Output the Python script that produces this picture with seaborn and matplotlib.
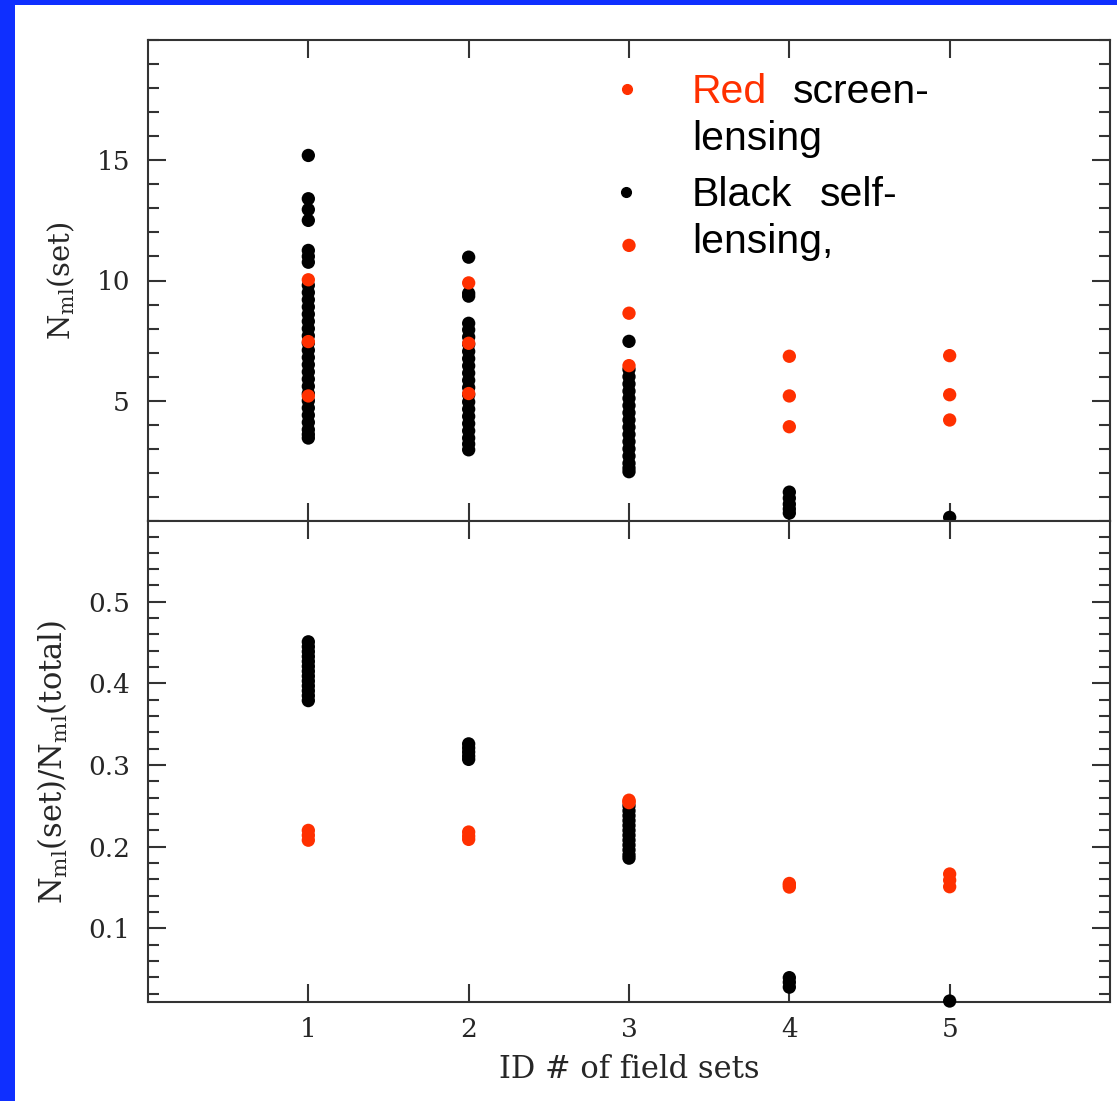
import matplotlib
matplotlib.use("Agg")
import matplotlib.pyplot as plt
import numpy as np
import pandas as pd
import seaborn as sns
from matplotlib.ticker import MultipleLocator, FixedLocator, NullLocator
from matplotlib.patches import Rectangle
from matplotlib.lines import Line2D

# ---------------- data ----------------
set_ids = [1, 2, 3, 4, 5]
x_tick_labels = ["1", "2", "3", "4", "5"]

# top panel: N_ml(set)
top_self = {
    1: [15.2, 13.4, 12.95, 12.5, 11.25, 11.0, 10.76, 9.8, 9.5, 9.2, 8.9, 8.6, 8.3,
        8.0, 7.7, 7.4, 7.1, 6.8, 6.5, 6.2, 5.9, 5.6, 5.3, 5.0, 4.7, 4.4, 4.1, 3.8,
        3.6, 3.45],
    2: [10.97, 9.47, 9.35, 8.22, 7.95, 7.65, 7.35, 7.05, 6.75, 6.45, 6.15, 5.85,
        5.55, 5.25, 4.95, 4.65, 4.35, 4.05, 3.75, 3.45, 3.2, 2.96],
    3: [7.47, 6.3, 6.0, 5.7, 5.4, 5.1, 4.8, 4.5, 4.2, 3.9, 3.6, 3.3, 3.0, 2.7,
        2.4, 2.2, 2.05],
    4: [1.2, 0.95, 0.7, 0.5, 0.33],
    5: [0.15],
}
top_screen = {
    1: [10.03, 7.46, 5.2],
    2: [9.9, 7.39, 5.3],
    3: [11.46, 8.64, 6.46],
    4: [6.85, 5.2, 3.92],
    5: [6.875, 5.25, 4.2],
}

# bottom panel: N_ml(set)/N_ml(total)
bot_self = {
    1: [0.451, 0.445, 0.439, 0.433, 0.427, 0.421, 0.415, 0.409, 0.403, 0.397,
        0.391, 0.385, 0.379],
    2: [0.326, 0.321, 0.316, 0.311, 0.307],
    3: [0.25, 0.244, 0.238, 0.232, 0.226, 0.22, 0.214, 0.208, 0.202, 0.196,
        0.19, 0.186],
    4: [0.0396, 0.034, 0.028],
    5: [0.011],
}
bot_screen = {
    1: [0.22, 0.214, 0.208],
    2: [0.218, 0.213, 0.209],
    3: [0.257, 0.2555, 0.254],
    4: [0.155, 0.153, 0.1506],
    5: [0.1666, 0.159, 0.151],
}

top_yticks = [5, 10, 15]
bot_yticks = [0.1, 0.2, 0.3, 0.4, 0.5]
bot_ytick_labels = ["0.1", "0.2", "0.3", "0.4", "0.5"]


def make_df(self_d, screen_d):
    rows = []
    for s in set_ids:
        for v in self_d[s]:
            rows.append((s, v, "self"))
    for s in set_ids:
        for v in screen_d[s]:
            rows.append((s, v, "screen"))
    return pd.DataFrame(rows, columns=["set", "value", "kind"])


df_top = make_df(top_self, top_screen)
df_bot = make_df(bot_self, bot_screen)

# ---------------- style ----------------
RED = "#ff3000"
BLUE = "#0f2fff"
SPINE = "#333333"

sns.set_style("ticks")
plt.rcParams["font.family"] = ["DejaVu Serif"]
plt.rcParams["mathtext.default"] = "regular"

W, H = 1117, 1101
fig = plt.figure(figsize=(W / 100, H / 100), dpi=100)
fig.patch.set_facecolor("white")


def px(x0, y0, x1, y1):
    return [x0 / W, 1 - y1 / H, (x1 - x0) / W, (y1 - y0) / H]


ax1 = fig.add_axes(px(148, 40, 1110, 521))
ax2 = fig.add_axes(px(148, 521, 1110, 1002))

pal = {"self": "black", "screen": RED}
for ax, df in [(ax1, df_top), (ax2, df_bot)]:
    sns.scatterplot(data=df, x="set", y="value", hue="kind", palette=pal,
                    s=92, linewidth=0, marker="o", legend=False, ax=ax,
                    clip_on=False, zorder=3)
    ax.set_xlim(0, 6)
    ax.xaxis.set_major_locator(FixedLocator(set_ids))
    ax.xaxis.set_minor_locator(NullLocator())
    for sp in ax.spines.values():
        sp.set_visible(True)
        sp.set_color(SPINE)
        sp.set_linewidth(1.5)
    ax.tick_params(which="both", direction="in", top=True, right=True,
                   color=SPINE, width=1.5, labelsize=19)
    ax.tick_params(which="major", length=13)
    ax.tick_params(which="minor", length=8)
    ax.tick_params(axis="y", pad=13)
    ax.tick_params(axis="x", pad=11)
    ax.set_facecolor("white")

# top panel
ax1.set_ylim(0, 20)
ax1.set_yticks(top_yticks)
ax1.yaxis.set_minor_locator(MultipleLocator(1))
ax1.tick_params(axis="x", labelbottom=False)
ax1.set_xlabel("")
ax1.set_ylabel(r"N$_{ml}$(set)", fontsize=21, va="center")
ax1.yaxis.set_label_coords((61 - 148) / 962, 0.5)

# bottom panel
ax2.set_ylim(0.0098, 0.599)
ax2.set_yticks(bot_yticks)
ax2.set_yticklabels(bot_ytick_labels)
ax2.yaxis.set_minor_locator(MultipleLocator(0.02))
ax2.set_xticklabels(x_tick_labels)
ax2.set_xlabel("ID # of field sets", fontsize=22, va="top")
ax2.xaxis.set_label_coords(0.5, -0.108)
ax2.set_ylabel(r"N$_{ml}$(set)/N$_{ml}$(total)", fontsize=22, va="center")
ax2.yaxis.set_label_coords((53 - 148) / 962, 0.5)

# ---------------- annotation text ----------------
lf = dict(family=["Liberation Sans", "DejaVu Sans"], fontsize=29.5, va="baseline")
fig.text(692 / W, 1 - 103 / H, "Red", color=RED, **lf)
fig.text(793 / W, 1 - 103 / H, "screen-", color="black", **lf)
fig.text(692 / W, 1 - 150.5 / H, "lensing", color="black", **lf)
fig.text(692 / W, 1 - 206.5 / H, "Black", color="black", **lf)
fig.text(820 / W, 1 - 206.5 / H, "self-", color="black", **lf)
fig.text(692 / W, 1 - 253 / H, "lensing,", color="black", **lf)

fig.add_artist(Line2D([626.5 / W], [1 - 89.3 / H], marker="o", linestyle="none",
                      color=RED, markersize=7, transform=fig.transFigure))
fig.add_artist(Line2D([626 / W], [1 - 191.7 / H], marker="o", linestyle="none",
                      color="black", markersize=7, transform=fig.transFigure))

# ---------------- blue frame ----------------
fig.add_artist(Rectangle((0, 0), 15 / W, 1, transform=fig.transFigure,
                         facecolor=BLUE, edgecolor="none", zorder=10))
fig.add_artist(Rectangle((0, 1 - 5 / H), 1, 5 / H, transform=fig.transFigure,
                         facecolor=BLUE, edgecolor="none", zorder=10))

fig.savefig("out.png", dpi=100)
